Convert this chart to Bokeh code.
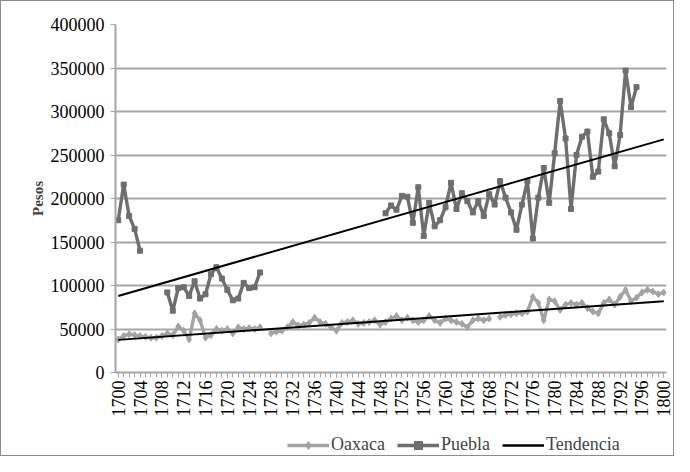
import math
import numpy as np
from bokeh.plotting import figure
from bokeh.layouts import column
from bokeh.models import (FixedTicker, NumeralTickFormatter, Legend, LegendItem,
                          ColumnDataSource, Range1d)
from bokeh.embed import file_html
from bokeh.resources import INLINE

nan = float("nan")

years = list(range(1700, 1801))

oaxaca = [38000, 42000, 44000, 43000, 42000, 41000, 40000, 40000, 42000, 45000,
          43000, 53000, 48000, 38000, 68000, 60000, 40000, 43000, 50000, 48000,
          50000, 45000, 52000, 50000, 51000, 50000, 52000, nan, 45000, 47000,
          48000, 52000, 58000, 54000, 55000, 57000, 63000, 58000, 56000, 52000,
          48000, 57000, 58000, 60000, 56000, 57000, 58000, 60000, 55000, 58000,
          62000, 65000, 60000, 63000, 60000, 58000, 60000, 65000, 60000, 57000,
          62000, 60000, 58000, 56000, 52000, 60000, 62000, 60000, 62000, nan,
          64000, 66000, 67000, 68000, 68000, 70000, 87000, 80000, 60000, 84000,
          82000, 72000, 78000, 80000, 78000, 80000, 74000, 70000, 68000, 80000,
          84000, 78000, 87000, 95000, 82000, 86000, 92000, 95000, 93000, 90000,
          92000]

puebla = [175000, 216000, 180000, 165000, 140000, nan, nan, nan, nan, 92000,
          71000, 97000, 98000, 88000, 105000, 85000, 90000, 113000, 121000, 108000,
          95000, 83000, 85000, 103000, 97000, 98000, 115000, nan, nan, nan,
          nan, nan, nan, nan, nan, nan, nan, nan, nan, nan,
          nan, nan, nan, nan, nan, nan, nan, nan, nan, 183000,
          192000, 187000, 203000, 202000, 172000, 213000, 157000, 195000, 168000, 175000,
          190000, 218000, 188000, 206000, 197000, 184000, 197000, 180000, 205000, 193000,
          220000, 201000, 184000, 164000, 193000, 220000, 154000, 201000, 235000, 195000,
          252000, 312000, 269000, 188000, 250000, 271000, 277000, 225000, 231000, 291000,
          275000, 237000, 273000, 347000, 305000, 328000, nan, nan, nan, nan,
          nan]

trend_years = [1700, 1800]
trend_puebla = [88000, 268000]
trend_oaxaca = [37500, 82000]

y_ticks = [0, 50000, 100000, 150000, 200000, 250000, 300000, 350000, 400000]
x_label_years = years[::4]

FONT = "Liberation Serif"
GRID = "#a6a6a6"
OAX = "#a3a3a3"
PUE = "#6e6e6e"
FS = "18px"
W = 672
LEFT = 114

p = figure(width=W, height=418, output_backend="svg", toolbar_location=None,
           x_range=Range1d(1699.5, 1800.5), y_range=Range1d(0, 400000),
           min_border_left=LEFT, min_border_right=7, min_border_top=23, min_border_bottom=42)
p.background_fill_color = "white"
p.border_fill_color = "white"
p.outline_line_color = None

src = ColumnDataSource(dict(year=years, oaxaca=oaxaca, puebla=puebla))

r_oax_l = p.line("year", "oaxaca", source=src, line_color=OAX, line_width=3.4)
r_oax_m = p.scatter("year", "oaxaca", source=src, marker="diamond", size=7,
                    fill_color=OAX, line_color=OAX)
r_pue_l = p.line("year", "puebla", source=src, line_color=PUE, line_width=3.4)
r_pue_m = p.scatter("year", "puebla", source=src, marker="square", size=5,
                    fill_color=PUE, line_color=PUE)
r_tr1 = p.line(trend_years, trend_puebla, line_color="black", line_width=2)
r_tr2 = p.line(trend_years, trend_oaxaca, line_color="black", line_width=2)

# grid
p.xgrid.visible = False
p.ygrid.ticker = FixedTicker(ticks=y_ticks)
p.ygrid.grid_line_color = GRID
p.ygrid.grid_line_width = 2

# y axis
p.yaxis.ticker = FixedTicker(ticks=y_ticks)
p.yaxis.formatter = NumeralTickFormatter(format="0")
p.yaxis.axis_line_color = GRID
p.yaxis.axis_line_width = 2
p.yaxis.major_tick_line_color = GRID
p.yaxis.major_tick_out = 5
p.yaxis.major_tick_in = 0
p.yaxis.minor_tick_line_color = None
p.yaxis.major_label_text_font = FONT
p.yaxis.major_label_text_font_size = FS
p.yaxis.major_label_text_color = "black"
p.yaxis.major_label_standoff = 6
p.yaxis.axis_label = "Pesos"
p.yaxis.axis_label_text_font = FONT
p.yaxis.axis_label_text_font_style = "bold"
p.yaxis.axis_label_text_font_size = "15px"
p.yaxis.axis_label_standoff = 2

# x axis
p.xaxis.ticker = FixedTicker(ticks=x_label_years, minor_ticks=years)
p.xaxis.axis_line_color = GRID
p.xaxis.axis_line_width = 2
p.xaxis.major_tick_line_color = GRID
p.xaxis.minor_tick_line_color = GRID
p.xaxis.major_tick_out = 5
p.xaxis.major_tick_in = 0
p.xaxis.minor_tick_out = 5
p.xaxis.minor_tick_in = 0
p.xaxis.major_label_orientation = math.pi / 2
p.xaxis.major_label_text_font = FONT
p.xaxis.major_label_text_font_size = FS
p.xaxis.major_label_text_color = "black"
p.xaxis.major_label_standoff = 3

# legend strip below the chart (its frame is aligned with the chart frame)
lf = figure(width=W, height=36, output_backend="svg", toolbar_location=None,
            x_range=Range1d(0, 1), y_range=Range1d(0, 1),
            x_axis_location=None, y_axis_location=None, min_border=0)
lf.outline_line_color = None
lf.xgrid.visible = False
lf.ygrid.visible = False
lf.background_fill_color = "white"
lf.border_fill_color = "white"
dummy = ColumnDataSource(dict(x=[nan], y=[nan]))
l_oax_l = lf.line("x", "y", source=dummy, line_color=OAX, line_width=3.4)
l_oax_m = lf.scatter("x", "y", source=dummy, marker="diamond", size=8,
                     fill_color=OAX, line_color=OAX)
l_pue_l = lf.line("x", "y", source=dummy, line_color=PUE, line_width=3.4)
l_pue_m = lf.scatter("x", "y", source=dummy, marker="square", size=6,
                     fill_color=PUE, line_color=PUE)
l_tr = lf.line("x", "y", source=dummy, line_color="black", line_width=2.5)

legend = Legend(items=[
    LegendItem(label="Oaxaca", renderers=[l_oax_l, l_oax_m]),
    LegendItem(label="Puebla", renderers=[l_pue_l, l_pue_m]),
    LegendItem(label="Tendencia", renderers=[l_tr]),
], orientation="horizontal", location=(172, 0))
legend.label_text_font = FONT
legend.label_text_font_size = FS
legend.border_line_color = None
legend.background_fill_alpha = 0
legend.glyph_width = 42
legend.spacing = 12
legend.label_standoff = 2
legend.margin = 0
legend.padding = 2
lf.add_layout(legend, "center")

layout = column(p, lf, spacing=0)
layout.styles = {"border": "1px solid #8c8c8c"}

open("out.html", "w").write(file_html(layout, INLINE))
